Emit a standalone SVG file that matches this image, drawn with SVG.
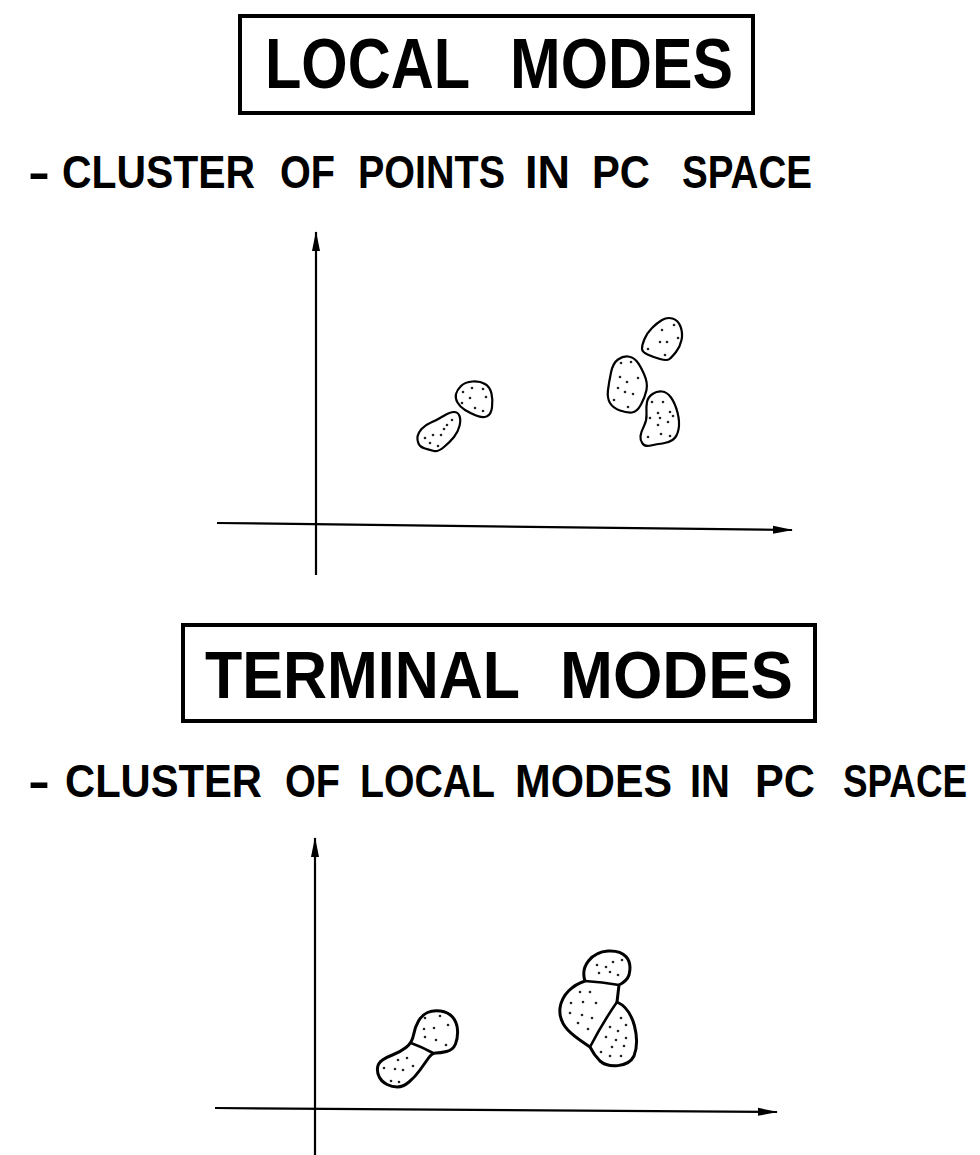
<svg xmlns="http://www.w3.org/2000/svg" width="980" height="1155" viewBox="0 0 980 1155">
<defs>
<marker id="ah" viewBox="0 0 20 10" refX="19" refY="5" markerWidth="20" markerHeight="10" markerUnits="userSpaceOnUse" orient="auto">
<path d="M0,1 L20,5 L0,9 Z" fill="#000"/>
</marker>
</defs>
<style>
.t{font-family:"Liberation Sans",Arial,sans-serif;font-weight:bold;fill:#000}
.box{fill:none;stroke:#000;stroke-width:4}
.ax{fill:none;stroke:#000;stroke-width:2.2}
.b1{fill:#fff;stroke:#000;stroke-width:2.2;stroke-linejoin:round}
.b2{fill:#fff;stroke:#000;stroke-width:3;stroke-linejoin:round;stroke-linecap:round}
.dv{fill:none;stroke:#000;stroke-width:2.6;stroke-linecap:round}
.d{fill:#222}
</style>
<rect width="980" height="1155" fill="#fff"/>

<g id="title-local">
<rect class="box" x="240" y="16" width="513" height="97"/>
<text class="t" y="88" font-size="71"><tspan x="265" textLength="205" lengthAdjust="spacingAndGlyphs">LOCAL</tspan><tspan x="510" textLength="223" lengthAdjust="spacingAndGlyphs">MODES</tspan></text>
</g>

<g id="subtitle-local">
<text class="t" y="188" font-size="46"><tspan x="28" textLength="22" lengthAdjust="spacingAndGlyphs">-</tspan><tspan x="62" textLength="193" lengthAdjust="spacingAndGlyphs">CLUSTER</tspan><tspan x="280" textLength="55" lengthAdjust="spacingAndGlyphs">OF</tspan><tspan x="358" textLength="147" lengthAdjust="spacingAndGlyphs">POINTS</tspan><tspan x="525" textLength="45" lengthAdjust="spacingAndGlyphs">IN</tspan><tspan x="592" textLength="58" lengthAdjust="spacingAndGlyphs">PC</tspan><tspan x="682" textLength="130" lengthAdjust="spacingAndGlyphs">SPACE</tspan></text>
</g>

<g id="connectors">
<line class="ax" x1="316" y1="575" x2="316" y2="232" marker-end="url(#ah)"/>
<line class="ax" x1="217" y1="523" x2="792" y2="530" marker-end="url(#ah)"/>
<line class="ax" x1="315" y1="1155" x2="315" y2="838" marker-end="url(#ah)"/>
<line class="ax" x1="215" y1="1108" x2="777" y2="1112" marker-end="url(#ah)"/>
</g>

<g id="local-mode-1">
<path class="b1" d="M421.5,429 Q425,425 431,422.5 Q437,420 443.5,416 Q450,412 454,412 Q458,412 459.5,416 Q461,420 459.5,426 Q458,432 454,437 Q450,442 444,447 Q438,452 434,451 Q430,450 425,448.5 Q420,447 418.5,443.5 Q417,440 417.5,436.5 Q418,433 421.5,429 Z"/>
<g class="d"><circle cx="425" cy="438" r="1.3"/><circle cx="433" cy="435" r="1.3"/><circle cx="430" cy="443" r="1.3"/><circle cx="441" cy="435" r="1.3"/><circle cx="447" cy="425" r="1.3"/><circle cx="452" cy="420" r="1.3"/><circle cx="438" cy="446" r="1.3"/><circle cx="444" cy="429" r="1.3"/></g>
</g>
<g id="local-mode-2">
<path class="b1" d="M461,386 Q465,382 472.5,381.5 Q480,381 485,384 Q490,387 491.5,393.5 Q493,400 492,407.5 Q491,415 486.5,416.5 Q482,418 476,415.5 Q470,413 465,410 Q460,407 457.5,402.5 Q455,398 456,394 Q457,390 461,386 Z"/>
<g class="d"><circle cx="463" cy="392" r="1.3"/><circle cx="472" cy="388" r="1.3"/><circle cx="483" cy="389" r="1.3"/><circle cx="470" cy="398" r="1.3"/><circle cx="486" cy="397" r="1.3"/><circle cx="475" cy="408" r="1.3"/><circle cx="483" cy="411" r="1.3"/><circle cx="462" cy="403" r="1.3"/></g>
</g>
<g id="local-mode-3">
<path class="b1" d="M644.5,339 Q647,333 652,328 Q657,323 662,320 Q667,317 672.5,318.5 Q678,320 680.5,326.5 Q683,333 681.5,340 Q680,347 676,352 Q672,357 669.5,359 Q667,361 660,359 Q653,357 647.5,354.5 Q642,352 642,348.5 Q642,345 644.5,339 Z"/>
<g class="d"><circle cx="662" cy="330" r="1.3"/><circle cx="674" cy="325" r="1.3"/><circle cx="660" cy="342" r="1.3"/><circle cx="667" cy="342" r="1.3"/><circle cx="678" cy="338" r="1.3"/><circle cx="648" cy="349" r="1.3"/><circle cx="665" cy="355" r="1.3"/></g>
</g>
<g id="local-mode-4">
<path class="b1" d="M618,359.5 Q623,356 628,356.5 Q633,357 636.5,361 Q640,365 644,374 Q648,383 646.5,390 Q645,397 641,404.5 Q637,412 632,412.5 Q627,413 620,410.5 Q613,408 610,403 Q607,398 608,390 Q609,382 611,372.5 Q613,363 618,359.5 Z"/>
<g class="d"><circle cx="621" cy="363" r="1.3"/><circle cx="631" cy="362" r="1.3"/><circle cx="620" cy="377" r="1.3"/><circle cx="627" cy="382" r="1.3"/><circle cx="638" cy="378" r="1.3"/><circle cx="618" cy="388" r="1.3"/><circle cx="625" cy="392" r="1.3"/><circle cx="633" cy="394" r="1.3"/><circle cx="614" cy="400" r="1.3"/><circle cx="628" cy="407" r="1.3"/></g>
</g>
<g id="local-mode-5">
<path class="b1" d="M652.5,394 Q657,391 662,391.5 Q667,392 671,397.5 Q675,403 677.5,412.5 Q680,422 678.5,429.5 Q677,437 672.5,440 Q668,443 662.5,443.5 Q657,444 651,445.5 Q645,447 642.5,443.5 Q640,440 640.5,436 Q641,432 644,426 Q647,420 646.5,413.5 Q646,407 647,402 Q648,397 652.5,394 Z"/>
<g class="d"><circle cx="652" cy="402" r="1.3"/><circle cx="663" cy="402" r="1.3"/><circle cx="658" cy="413" r="1.3"/><circle cx="670" cy="412" r="1.3"/><circle cx="650" cy="418" r="1.3"/><circle cx="660" cy="418" r="1.3"/><circle cx="673" cy="416" r="1.3"/><circle cx="658" cy="425" r="1.3"/><circle cx="668" cy="422" r="1.3"/><circle cx="648" cy="437" r="1.3"/><circle cx="661" cy="434" r="1.3"/><circle cx="670" cy="436" r="1.3"/></g>
</g>

<g id="title-terminal">
<rect class="box" x="183" y="625" width="632" height="96"/>
<text class="t" y="698" font-size="67"><tspan x="205" textLength="315" lengthAdjust="spacingAndGlyphs">TERMINAL</tspan><tspan x="560" textLength="233" lengthAdjust="spacingAndGlyphs">MODES</tspan></text>
</g>

<g id="subtitle-terminal">
<text class="t" y="797" font-size="46"><tspan x="28" textLength="22" lengthAdjust="spacingAndGlyphs">-</tspan><tspan x="65" textLength="197" lengthAdjust="spacingAndGlyphs">CLUSTER</tspan><tspan x="285" textLength="55" lengthAdjust="spacingAndGlyphs">OF</tspan><tspan x="360" textLength="135" lengthAdjust="spacingAndGlyphs">LOCAL</tspan><tspan x="515" textLength="157" lengthAdjust="spacingAndGlyphs">MODES</tspan><tspan x="690" textLength="40" lengthAdjust="spacingAndGlyphs">IN</tspan><tspan x="755" textLength="60" lengthAdjust="spacingAndGlyphs">PC</tspan></text>
<text class="t" font-size="46" transform="translate(843,797) scale(0.8,1)">SPACE</text>
</g>

<g id="terminal-mode-1">
<path class="b2" d="M382.5,1060 Q387,1057 393.5,1054.5 Q400,1052 406,1047.5 Q412,1043 413.5,1035 Q415,1027 418.5,1021 Q422,1015 427.5,1012.5 Q433,1010 440.5,1011 Q448,1012 452.5,1017 Q457,1022 457.5,1030 Q458,1038 455.5,1044 Q453,1050 446.5,1051.5 Q440,1053 436,1053 Q432,1053 428.5,1058 Q425,1063 420,1070 Q415,1077 409,1082 Q403,1087 397.5,1087 Q392,1087 387,1084.5 Q382,1082 379.5,1077.5 Q377,1073 377.5,1068 Q378,1063 382.5,1060 Z"/>
<path class="dv" d="M411,1043 Q422,1047 433,1053"/>
<g class="d"><circle cx="425" cy="1018" r="1.3"/><circle cx="440" cy="1016" r="1.3"/><circle cx="424" cy="1029" r="1.3"/><circle cx="434" cy="1028" r="1.3"/><circle cx="448" cy="1025" r="1.3"/><circle cx="425" cy="1037" r="1.3"/><circle cx="436" cy="1040" r="1.3"/><circle cx="446" cy="1045" r="1.3"/><circle cx="398" cy="1060" r="1.3"/><circle cx="407" cy="1058" r="1.3"/><circle cx="384" cy="1068" r="1.3"/><circle cx="395" cy="1069" r="1.3"/><circle cx="403" cy="1070" r="1.3"/><circle cx="413" cy="1066" r="1.3"/><circle cx="391" cy="1081" r="1.3"/><circle cx="399" cy="1082" r="1.3"/></g>
</g>
<g id="terminal-mode-2">
<path class="b2" d="M585,981 C580,966 592,952 608,951 C624,950 633,959 629,975 Q627,981 619,985 L617,1002 C635,1010 640,1040 634,1056 C628,1068 608,1068 600,1061 Q594,1055 590,1047 C575,1037 558,1027 560,1008 C562,994 573,985 585,981 Z"/>
<path class="dv" d="M585,981 Q602,982 619,985"/>
<path class="dv" d="M617,1002 Q603,1022 590,1047"/>
<g class="d"><circle cx="597" cy="965" r="1.3"/><circle cx="606" cy="967" r="1.3"/><circle cx="613" cy="962" r="1.3"/><circle cx="622" cy="960" r="1.3"/><circle cx="599" cy="973" r="1.3"/><circle cx="610" cy="972" r="1.3"/><circle cx="618" cy="975" r="1.3"/><circle cx="580" cy="992" r="1.3"/><circle cx="590" cy="992" r="1.3"/><circle cx="571" cy="1003" r="1.3"/><circle cx="583" cy="1002" r="1.3"/><circle cx="596" cy="1003" r="1.3"/><circle cx="570" cy="1013" r="1.3"/><circle cx="582" cy="1015" r="1.3"/><circle cx="592" cy="1018" r="1.3"/><circle cx="578" cy="1023" r="1.3"/><circle cx="588" cy="1029" r="1.3"/><circle cx="621" cy="1018" r="1.3"/><circle cx="626" cy="1025" r="1.3"/><circle cx="610" cy="1027" r="1.3"/><circle cx="618" cy="1031" r="1.3"/><circle cx="606" cy="1037" r="1.3"/><circle cx="616" cy="1040" r="1.3"/><circle cx="626" cy="1038" r="1.3"/><circle cx="612" cy="1047" r="1.3"/><circle cx="624" cy="1046" r="1.3"/><circle cx="601" cy="1052" r="1.3"/><circle cx="610" cy="1056" r="1.3"/><circle cx="621" cy="1056" r="1.3"/></g>
</g>
</svg>
